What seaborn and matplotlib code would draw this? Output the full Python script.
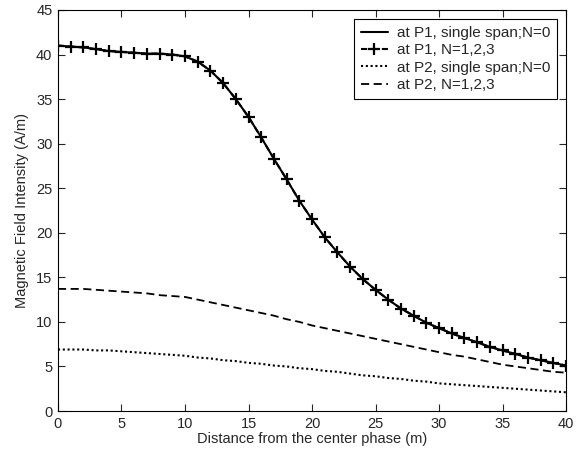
import matplotlib
matplotlib.use("Agg")
import matplotlib.pyplot as plt
import pandas as pd
import seaborn as sns

distance = list(range(0, 41))

p1_single = [41.0, 40.9, 40.8, 40.6, 40.4, 40.3, 40.2, 40.1, 40.1, 40.0,
             39.8, 39.2, 38.2, 36.8, 35.0, 33.0, 30.7, 28.3, 26.0, 23.6,
             21.5, 19.5, 17.8, 16.2, 14.8, 13.6, 12.5, 11.5, 10.7, 9.9,
             9.3, 8.7, 8.2, 7.7, 7.2, 6.8, 6.4, 6.0, 5.7, 5.4, 5.1]
p1_multi = list(p1_single)
p2_single = [6.9, 6.9, 6.9, 6.8, 6.8, 6.7, 6.6, 6.5, 6.4, 6.3,
             6.2, 6.0, 5.9, 5.7, 5.6, 5.4, 5.3, 5.1, 5.0, 4.8,
             4.7, 4.5, 4.4, 4.2, 4.0, 3.9, 3.7, 3.6, 3.4, 3.3,
             3.1, 3.0, 2.9, 2.8, 2.7, 2.6, 2.5, 2.4, 2.3, 2.2, 2.1]
p2_multi = [13.7, 13.7, 13.7, 13.6, 13.5, 13.4, 13.3, 13.2, 13.0, 12.9,
            12.8, 12.5, 12.2, 11.9, 11.6, 11.3, 11.0, 10.7, 10.3, 10.0,
            9.6, 9.3, 9.0, 8.7, 8.4, 8.1, 7.8, 7.5, 7.2, 6.9,
            6.6, 6.3, 6.1, 5.8, 5.5, 5.2, 5.0, 4.8, 4.6, 4.4, 4.3]

labels = ["at P1, single span;N=0", "at P1, N=1,2,3",
          "at P2, single span;N=0", "at P2, N=1,2,3"]

df = pd.DataFrame({"distance": distance, labels[0]: p1_single, labels[1]: p1_multi,
                   labels[2]: p2_single, labels[3]: p2_multi})

sns.set_style("ticks")
plt.rcParams["font.family"] = ["Liberation Sans", "DejaVu Sans"]

fig = plt.figure(figsize=(5.77, 4.54), dpi=100)
ax = fig.add_axes([0.1005, 0.0947, 0.8805, 0.8833])

sns.lineplot(data=df, x="distance", y=labels[0], ax=ax, color="black",
             linestyle="-", linewidth=1.5, label=labels[0])
sns.lineplot(data=df, x="distance", y=labels[1], ax=ax, color="black",
             linestyle=(0, (3, 2)), linewidth=1.5, marker="+", markersize=8,
             markeredgewidth=1.6, markeredgecolor="black", label=labels[1])
sns.lineplot(data=df, x="distance", y=labels[2], ax=ax, color="black",
             linestyle=(0, (1, 1.3)), linewidth=1.5, label=labels[2])
sns.lineplot(data=df, x="distance", y=labels[3], ax=ax, color="black",
             linestyle=(0, (4.5, 2.5)), linewidth=1.3, label=labels[3])

ax.set_xlim(0, 40)
ax.set_ylim(0, 45)
ax.set_xticks(range(0, 41, 5))
ax.set_yticks(range(0, 46, 5))
ax.set_xlabel("Distance from the center phase (m)", fontsize=10.5, labelpad=1)
ax.set_ylabel("Magnetic Field Intensity (A/m)", fontsize=10.5, labelpad=5)
ax.tick_params(direction="in", top=True, right=True, labelsize=10.5,
               length=5, width=0.8, pad=4)
for s in ax.spines.values():
    s.set_visible(True)
    s.set_color("black")
    s.set_linewidth(0.8)

leg = ax.legend(loc="upper right", fontsize=11, fancybox=False, framealpha=1,
                edgecolor="black", handlelength=1.8, handletextpad=0.55,
                borderpad=0.45, labelspacing=0.22, borderaxespad=0.6)
leg.get_frame().set_linewidth(0.8)

fig.savefig("out.png", dpi=100)
